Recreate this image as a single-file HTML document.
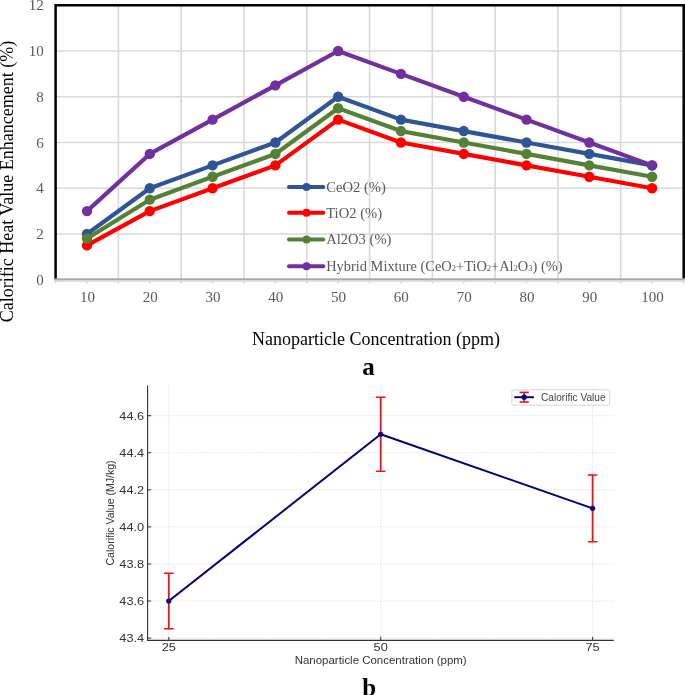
<!DOCTYPE html><html><head><meta charset="utf-8"><style>html,body{margin:0;padding:0;background:#fff;}svg{display:block;will-change:transform;} text{-webkit-font-smoothing:antialiased;}</style></head><body>
<svg width="685" height="695" viewBox="0 0 685 695">
<rect width="685" height="695" fill="#fff"/>
<g stroke="#D9D9D9" stroke-width="1.6"><line x1="55.6" y1="233.97" x2="683.5" y2="233.97"/><line x1="55.6" y1="188.23" x2="683.5" y2="188.23"/><line x1="55.6" y1="142.50" x2="683.5" y2="142.50"/><line x1="55.6" y1="96.77" x2="683.5" y2="96.77"/><line x1="55.6" y1="51.03" x2="683.5" y2="51.03"/><line x1="118.39" y1="5.3" x2="118.39" y2="279.7"/><line x1="181.18" y1="5.3" x2="181.18" y2="279.7"/><line x1="243.97" y1="5.3" x2="243.97" y2="279.7"/><line x1="306.76" y1="5.3" x2="306.76" y2="279.7"/><line x1="369.55" y1="5.3" x2="369.55" y2="279.7"/><line x1="432.34" y1="5.3" x2="432.34" y2="279.7"/><line x1="495.13" y1="5.3" x2="495.13" y2="279.7"/><line x1="557.92" y1="5.3" x2="557.92" y2="279.7"/><line x1="620.71" y1="5.3" x2="620.71" y2="279.7"/></g>
<path d="M55.6 279.7 V5.3 H683.7 V278.7" fill="none" stroke="#000" stroke-width="2.5"/>
<g stroke="#D4D4D4" stroke-width="1.3"><line x1="55.60" y1="281.2" x2="55.60" y2="283.5"/><line x1="87.00" y1="281.2" x2="87.00" y2="283.5"/><line x1="118.39" y1="281.2" x2="118.39" y2="283.5"/><line x1="149.78" y1="281.2" x2="149.78" y2="283.5"/><line x1="181.18" y1="281.2" x2="181.18" y2="283.5"/><line x1="212.57" y1="281.2" x2="212.57" y2="283.5"/><line x1="243.97" y1="281.2" x2="243.97" y2="283.5"/><line x1="275.37" y1="281.2" x2="275.37" y2="283.5"/><line x1="306.76" y1="281.2" x2="306.76" y2="283.5"/><line x1="338.16" y1="281.2" x2="338.16" y2="283.5"/><line x1="369.55" y1="281.2" x2="369.55" y2="283.5"/><line x1="400.94" y1="281.2" x2="400.94" y2="283.5"/><line x1="432.34" y1="281.2" x2="432.34" y2="283.5"/><line x1="463.74" y1="281.2" x2="463.74" y2="283.5"/><line x1="495.13" y1="281.2" x2="495.13" y2="283.5"/><line x1="526.52" y1="281.2" x2="526.52" y2="283.5"/><line x1="557.92" y1="281.2" x2="557.92" y2="283.5"/><line x1="589.32" y1="281.2" x2="589.32" y2="283.5"/><line x1="620.71" y1="281.2" x2="620.71" y2="283.5"/><line x1="652.11" y1="281.2" x2="652.11" y2="283.5"/><line x1="683.50" y1="281.2" x2="683.50" y2="283.5"/></g>
<rect x="54.4" y="278.3" width="630.6" height="2.1" fill="#A8A8A8"/>
<rect x="54.4" y="280.4" width="630.6" height="1.3" fill="#D2D2D2"/>
<g font-family="Liberation Serif" font-size="15" fill="#595959" text-anchor="end"><text x="43.8" y="284.80">0</text><text x="43.8" y="239.07">2</text><text x="43.8" y="193.33">4</text><text x="43.8" y="147.60">6</text><text x="43.8" y="101.87">8</text><text x="43.8" y="56.13">10</text><text x="43.8" y="10.40">12</text></g>
<g font-family="Liberation Serif" font-size="15" fill="#595959" text-anchor="middle"><text x="87.40" y="301.6">10</text><text x="150.19" y="301.6">20</text><text x="212.97" y="301.6">30</text><text x="275.76" y="301.6">40</text><text x="338.56" y="301.6">50</text><text x="401.34" y="301.6">60</text><text x="464.13" y="301.6">70</text><text x="526.92" y="301.6">80</text><text x="589.72" y="301.6">90</text><text x="652.50" y="301.6">100</text></g>
<g><line x1="289" y1="186.9" x2="323.3" y2="186.9" stroke="#2F5597" stroke-width="4" stroke-linecap="round"/><circle cx="306.5" cy="186.9" r="4" fill="#2F5597"/><text x="326.2" y="191.80" font-family="Liberation Serif" font-size="14.6" fill="#595959">CeO2 (%)</text><line x1="289" y1="212.8" x2="323.3" y2="212.8" stroke="#FF0000" stroke-width="4" stroke-linecap="round"/><circle cx="306.5" cy="212.8" r="4" fill="#FF0000"/><text x="326.2" y="217.70" font-family="Liberation Serif" font-size="14.6" fill="#595959">TiO2 (%)</text><line x1="289" y1="239.5" x2="323.3" y2="239.5" stroke="#548235" stroke-width="4" stroke-linecap="round"/><circle cx="306.5" cy="239.5" r="4" fill="#548235"/><text x="326.2" y="244.40" font-family="Liberation Serif" font-size="14.6" fill="#595959">Al2O3 (%)</text><line x1="289" y1="266.3" x2="323.3" y2="266.3" stroke="#7030A0" stroke-width="4" stroke-linecap="round"/><circle cx="306.5" cy="266.3" r="4" fill="#7030A0"/><text x="326.2" y="271.20" font-family="Liberation Serif" font-size="14.6" fill="#595959" textLength="236.3" lengthAdjust="spacingAndGlyphs">Hybrid Mixture (CeO<tspan font-size="8.6">2</tspan>+TiO<tspan font-size="8.6">2</tspan>+Al<tspan font-size="8.6">2</tspan>O<tspan font-size="8.6">3</tspan>) (%)</text></g>
<polyline points="87.00,233.97 149.78,188.23 212.57,165.37 275.37,142.50 338.16,96.77 400.94,119.63 463.74,131.07 526.52,142.50 589.32,153.93 652.11,165.37" fill="none" stroke="#2F5597" stroke-width="4.2" stroke-linejoin="round" stroke-linecap="round"/>
<g fill="#2F5597"><circle cx="87.00" cy="233.97" r="5.2"/><circle cx="149.78" cy="188.23" r="5.2"/><circle cx="212.57" cy="165.37" r="5.2"/><circle cx="275.37" cy="142.50" r="5.2"/><circle cx="338.16" cy="96.77" r="5.2"/><circle cx="400.94" cy="119.63" r="5.2"/><circle cx="463.74" cy="131.07" r="5.2"/><circle cx="526.52" cy="142.50" r="5.2"/><circle cx="589.32" cy="153.93" r="5.2"/><circle cx="652.11" cy="165.37" r="5.2"/></g>
<polyline points="87.00,245.40 149.78,211.10 212.57,188.23 275.37,165.37 338.16,119.63 400.94,142.50 463.74,153.93 526.52,165.37 589.32,176.80 652.11,188.23" fill="none" stroke="#FF0000" stroke-width="4.2" stroke-linejoin="round" stroke-linecap="round"/>
<g fill="#FF0000"><circle cx="87.00" cy="245.40" r="5.2"/><circle cx="149.78" cy="211.10" r="5.2"/><circle cx="212.57" cy="188.23" r="5.2"/><circle cx="275.37" cy="165.37" r="5.2"/><circle cx="338.16" cy="119.63" r="5.2"/><circle cx="400.94" cy="142.50" r="5.2"/><circle cx="463.74" cy="153.93" r="5.2"/><circle cx="526.52" cy="165.37" r="5.2"/><circle cx="589.32" cy="176.80" r="5.2"/><circle cx="652.11" cy="188.23" r="5.2"/></g>
<polyline points="87.00,238.54 149.78,199.67 212.57,176.80 275.37,153.93 338.16,108.20 400.94,131.07 463.74,142.50 526.52,153.93 589.32,165.37 652.11,176.80" fill="none" stroke="#548235" stroke-width="4.2" stroke-linejoin="round" stroke-linecap="round"/>
<g fill="#548235"><circle cx="87.00" cy="238.54" r="5.2"/><circle cx="149.78" cy="199.67" r="5.2"/><circle cx="212.57" cy="176.80" r="5.2"/><circle cx="275.37" cy="153.93" r="5.2"/><circle cx="338.16" cy="108.20" r="5.2"/><circle cx="400.94" cy="131.07" r="5.2"/><circle cx="463.74" cy="142.50" r="5.2"/><circle cx="526.52" cy="153.93" r="5.2"/><circle cx="589.32" cy="165.37" r="5.2"/><circle cx="652.11" cy="176.80" r="5.2"/></g>
<polyline points="87.00,211.10 149.78,153.93 212.57,119.63 275.37,85.33 338.16,51.03 400.94,73.90 463.74,96.77 526.52,119.63 589.32,142.50 652.11,165.37" fill="none" stroke="#7030A0" stroke-width="4.2" stroke-linejoin="round" stroke-linecap="round"/>
<g fill="#7030A0"><circle cx="87.00" cy="211.10" r="5.2"/><circle cx="149.78" cy="153.93" r="5.2"/><circle cx="212.57" cy="119.63" r="5.2"/><circle cx="275.37" cy="85.33" r="5.2"/><circle cx="338.16" cy="51.03" r="5.2"/><circle cx="400.94" cy="73.90" r="5.2"/><circle cx="463.74" cy="96.77" r="5.2"/><circle cx="526.52" cy="119.63" r="5.2"/><circle cx="589.32" cy="142.50" r="5.2"/><circle cx="652.11" cy="165.37" r="5.2"/></g>
<text transform="translate(13.2 181.5) rotate(-90)" text-anchor="middle" font-family="Liberation Serif" font-size="18" fill="#000">Calorific Heat Value Enhancement (%)</text>
<text x="376" y="345.3" text-anchor="middle" font-family="Liberation Serif" font-size="18" fill="#000">Nanoparticle Concentration (ppm)</text>
<text x="368.6" y="375.4" text-anchor="middle" font-family="Liberation Serif" font-weight="bold" font-size="25" fill="#000">a</text>
<g stroke="#DDDDDD" stroke-width="0.8" stroke-dasharray="1.6 1.2"><line x1="147.6" y1="638.08" x2="613.8" y2="638.08"/><line x1="147.6" y1="601.02" x2="613.8" y2="601.02"/><line x1="147.6" y1="563.96" x2="613.8" y2="563.96"/><line x1="147.6" y1="526.90" x2="613.8" y2="526.90"/><line x1="147.6" y1="489.84" x2="613.8" y2="489.84"/><line x1="147.6" y1="452.77" x2="613.8" y2="452.77"/><line x1="147.6" y1="415.71" x2="613.8" y2="415.71"/><line x1="168.79" y1="385.6" x2="168.79" y2="640.4"/><line x1="380.70" y1="385.6" x2="380.70" y2="640.4"/><line x1="592.61" y1="385.6" x2="592.61" y2="640.4"/></g>
<path d="M147.6 385.6 V640.4 H613.8" fill="none" stroke="#333" stroke-width="1.1"/>
<g stroke="#333" stroke-width="1"><line x1="147.6" y1="638.08" x2="151.1" y2="638.08"/><line x1="147.6" y1="601.02" x2="151.1" y2="601.02"/><line x1="147.6" y1="563.96" x2="151.1" y2="563.96"/><line x1="147.6" y1="526.90" x2="151.1" y2="526.90"/><line x1="147.6" y1="489.84" x2="151.1" y2="489.84"/><line x1="147.6" y1="452.77" x2="151.1" y2="452.77"/><line x1="147.6" y1="415.71" x2="151.1" y2="415.71"/><line x1="168.79" y1="640.4" x2="168.79" y2="636.9"/><line x1="380.70" y1="640.4" x2="380.70" y2="636.9"/><line x1="592.61" y1="640.4" x2="592.61" y2="636.9"/></g>
<g font-family="Liberation Sans" font-size="11.4" fill="#333"><text x="144.1" y="642.18" text-anchor="end" textLength="24.8" lengthAdjust="spacingAndGlyphs">43.4</text><text x="144.1" y="605.12" text-anchor="end" textLength="24.8" lengthAdjust="spacingAndGlyphs">43.6</text><text x="144.1" y="568.06" text-anchor="end" textLength="24.8" lengthAdjust="spacingAndGlyphs">43.8</text><text x="144.1" y="531.00" text-anchor="end" textLength="24.8" lengthAdjust="spacingAndGlyphs">44.0</text><text x="144.1" y="493.94" text-anchor="end" textLength="24.8" lengthAdjust="spacingAndGlyphs">44.2</text><text x="144.1" y="456.87" text-anchor="end" textLength="24.8" lengthAdjust="spacingAndGlyphs">44.4</text><text x="144.1" y="419.81" text-anchor="end" textLength="24.8" lengthAdjust="spacingAndGlyphs">44.6</text><text x="168.79" y="651.3" text-anchor="middle" textLength="14.2" lengthAdjust="spacingAndGlyphs">25</text><text x="380.70" y="651.3" text-anchor="middle" textLength="14.2" lengthAdjust="spacingAndGlyphs">50</text><text x="592.61" y="651.3" text-anchor="middle" textLength="14.2" lengthAdjust="spacingAndGlyphs">75</text></g>
<polyline points="168.79,601.02 380.70,434.24 592.61,508.37" fill="none" stroke="#000080" stroke-width="2" stroke-linejoin="round"/>
<g stroke="#EE1111" stroke-width="1.8"><line x1="168.79" y1="573.23" x2="168.79" y2="628.82"/><line x1="163.99" y1="573.23" x2="173.59" y2="573.23" stroke-width="1.5"/><line x1="163.99" y1="628.82" x2="173.59" y2="628.82" stroke-width="1.5"/><line x1="380.70" y1="397.18" x2="380.70" y2="471.31"/><line x1="375.90" y1="397.18" x2="385.50" y2="397.18" stroke-width="1.5"/><line x1="375.90" y1="471.31" x2="385.50" y2="471.31" stroke-width="1.5"/><line x1="592.61" y1="475.01" x2="592.61" y2="541.72"/><line x1="587.81" y1="475.01" x2="597.41" y2="475.01" stroke-width="1.5"/><line x1="587.81" y1="541.72" x2="597.41" y2="541.72" stroke-width="1.5"/></g>
<g fill="#000080"><circle cx="168.79" cy="601.02" r="2.6"/><circle cx="380.70" cy="434.24" r="2.6"/><circle cx="592.61" cy="508.37" r="2.6"/></g>
<rect x="511.8" y="389.8" width="97.8" height="15.4" rx="2" fill="#fff" fill-opacity="0.8" stroke="#CCCCCC" stroke-width="0.8"/>
<line x1="514.3" y1="397.2" x2="533.9" y2="397.2" stroke="#000080" stroke-width="2"/>
<g stroke="#EE1111" stroke-width="1.6"><line x1="524.2" y1="392.4" x2="524.2" y2="402"/><line x1="519.6" y1="392.4" x2="528.8" y2="392.4"/><line x1="519.6" y1="402" x2="528.8" y2="402"/></g>
<circle cx="524.2" cy="397.2" r="2.6" fill="#000080"/>
<text x="541" y="400.6" font-family="Liberation Sans" font-size="10.2" fill="#444" textLength="64.6" lengthAdjust="spacingAndGlyphs">Calorific Value</text>
<text x="380.7" y="664.4" text-anchor="middle" font-family="Liberation Sans" font-size="10" fill="#333" textLength="172" lengthAdjust="spacingAndGlyphs">Nanoparticle Concentration (ppm)</text>
<text transform="translate(113.9 513) rotate(-90)" text-anchor="middle" font-family="Liberation Sans" font-size="10" fill="#333" textLength="105" lengthAdjust="spacingAndGlyphs">Calorific Value (MJ/kg)</text>
<text x="369.1" y="696" text-anchor="middle" font-family="Liberation Serif" font-weight="bold" font-size="25" fill="#000">b</text>
</svg></body></html>
